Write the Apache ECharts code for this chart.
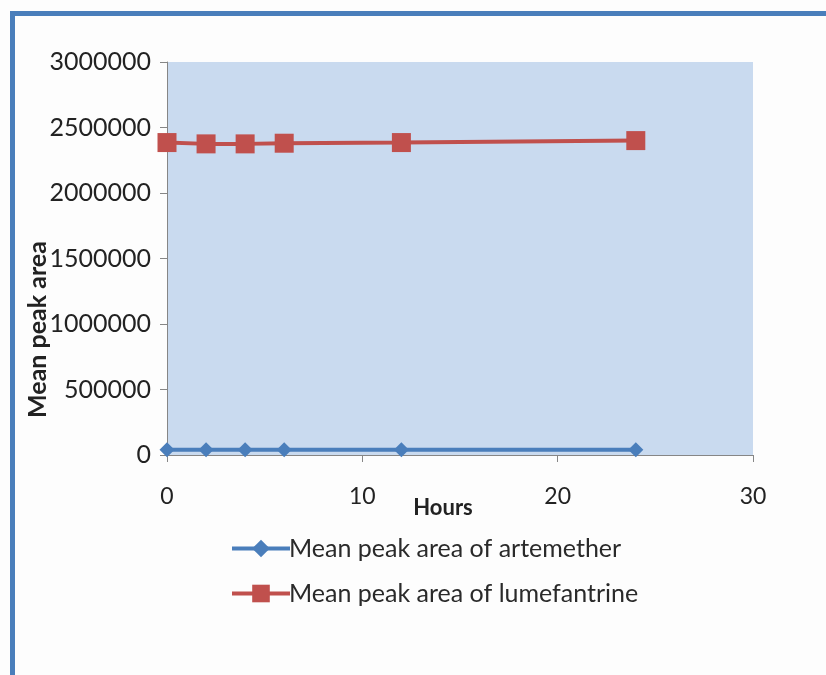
<!DOCTYPE html>
<html>
<head>
<meta charset="utf-8">
<script src="https://cdn.jsdelivr.net/npm/echarts@6/dist/echarts.min.js"></script>
<style>
  html, body { margin: 0; padding: 0; background: #fdfdfd; }
  #chart { width: 826px; height: 675px; }
</style>
</head>
<body>
<div id="chart"></div>
<script>
// Sampling times (hours)
const hours = [0, 2, 4, 6, 12, 24];
// Mean peak areas
const artemether = [40000, 40000, 40000, 40000, 40000, 40000];
const lumefantrine = [2385000, 2375000, 2375000, 2380000, 2385000, 2400000];
// Axis settings
const yTicks = { min: 0, max: 3000000, interval: 500000 };
const xTicks = { min: 0, max: 30, interval: 10 };

const FONT = 'Lato';
const chart = echarts.init(document.getElementById('chart'), null, { renderer: 'canvas' });

const pair = (xs, ys) => xs.map((x, i) => [x, ys[i]]);

chart.setOption({
  backgroundColor: '#fdfdfd',
  animation: false,
  textStyle: { fontFamily: FONT },
  graphic: [
    {
      type: 'polyline',
      shape: { points: [[12.5, 675], [12.5, 13.5], [826, 13.5]] },
      style: { stroke: '#4a7ebb', lineWidth: 5, fill: null }
    }
  ],
  grid: {
    left: 167, right: 73, top: 62, bottom: 220,
    show: true, backgroundColor: '#c9daef', borderWidth: 0
  },
  xAxis: {
    type: 'value',
    min: xTicks.min, max: xTicks.max, interval: xTicks.interval,
    name: 'Hours', nameLocation: 'middle', nameGap: 42, nameMoveOverlap: false,
    nameTextStyle: { fontFamily: FONT, fontWeight: 'bold', fontSize: 22, color: '#222', padding: [0, 34, 0, 0] },
    axisLine: { show: true, lineStyle: { color: '#868686', width: 1 } },
    axisTick: { show: true, inside: false, length: 7, lineStyle: { color: '#868686' } },
    axisLabel: { fontFamily: FONT, fontSize: 23, color: '#222', margin: 30 },
    splitLine: { show: false }
  },
  yAxis: {
    type: 'value',
    min: yTicks.min, max: yTicks.max, interval: yTicks.interval,
    name: 'Mean peak area', nameLocation: 'middle', nameRotate: 90, nameGap: 117, nameMoveOverlap: false,
    nameTextStyle: { fontFamily: FONT, fontWeight: 'bold', fontSize: 25, color: '#222', padding: [0, 142, 0, 0] },
    axisLine: { show: true, lineStyle: { color: '#868686', width: 1 } },
    axisTick: { show: true, inside: false, length: 7, lineStyle: { color: '#868686' } },
    axisLabel: { fontFamily: FONT, fontSize: 25, color: '#222', margin: 16, formatter: v => String(v) },
    splitLine: { show: false }
  },
  legend: {
    orient: 'vertical',
    left: 225, top: 531,
    itemWidth: 58, itemHeight: 22, itemGap: 20,
    lineStyle: { width: 4 },
    textStyle: { fontFamily: FONT, fontSize: 25, color: '#2a2a2a', padding: [0, 0, 0, -6] },
    data: ['Mean peak area of artemether', 'Mean peak area of lumefantrine']
  },
  series: [
    {
      name: 'Mean peak area of artemether',
      type: 'line',
      data: pair(hours, artemether),
      symbol: 'diamond', symbolSize: 15,
      itemStyle: { color: '#4a7ebb' },
      lineStyle: { color: '#4a7ebb', width: 4 }
    },
    {
      name: 'Mean peak area of lumefantrine',
      type: 'line',
      data: pair(hours, lumefantrine),
      symbol: 'rect', symbolSize: 19,
      itemStyle: { color: '#c0504d' },
      lineStyle: { color: '#c0504d', width: 4 }
    }
  ]
});
</script>
</body>
</html>
